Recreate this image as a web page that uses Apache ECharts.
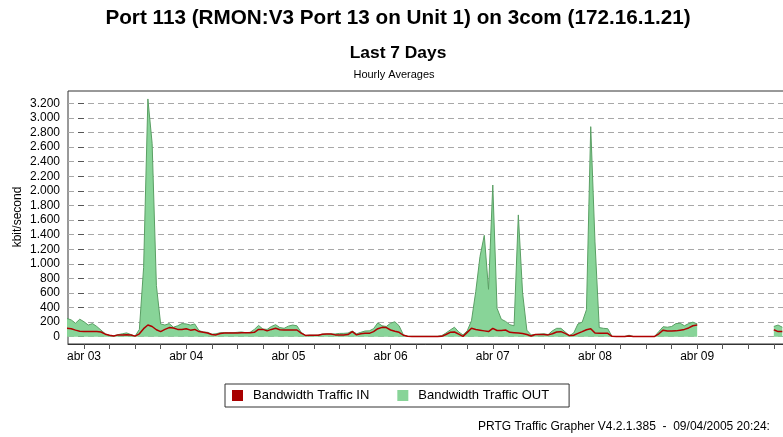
<!DOCTYPE html>
<html>
<head>
<meta charset="utf-8">
<title>Port 113 - Last 7 Days</title>
<script src="https://cdn.jsdelivr.net/npm/echarts@6/dist/echarts.min.js"></script>
<style>
html, body { margin: 0; padding: 0; background: #fff; }
#chart { width: 783px; height: 437px; }
</style>
</head>
<body>
<div id="chart"></div>
<script>
// hours are counted from abr 03 00:00, first sample is abr 02 20:00
var firstHour = -4
var dayLabels = ['abr 03', 'abr 04', 'abr 05', 'abr 06', 'abr 07', 'abr 08', 'abr 09']
var dayHours = [0, 24, 48, 72, 96, 120, 144]
var sixHourTicks = [0, 6, 12, 18, 24, 30, 36, 42, 48, 54, 60, 66, 72, 78, 84, 90, 96, 102, 108, 114, 120, 126, 132, 138, 144, 150, 156, 162]
var yTicks = [0, 200, 400, 600, 800, 1000, 1200, 1400, 1600, 1800, 2000, 2200, 2400, 2600, 2800, 3000, 3200]

// Bandwidth Traffic OUT, kbit/second, hourly
var trafficOut = [
  250, 230, 185, 240, 205, 160, 180, 140, 90, 40,
  15, 12, 28, 40, 52, 30, 8, 100, 950, 3260,
  2650, 700, 175, 160, 180, 130, 150, 180, 175, 160,
  175, 85, 65, 60, 35, 40, 55, 55, 55, 55,
  60, 65, 55, 60, 100, 155, 105, 100, 140, 165,
  125, 115, 145, 160, 150, 60, 18, 20, 20, 22,
  35, 37, 37, 38, 45, 46, 50, 78, 40, 60,
  78, 80, 110, 190, 150, 140, 185, 205, 150, 25,
  5, 5, 5, 5, 5, 5, 5, 5, 15, 50,
  92, 130, 65, 25, 80, 220, 620, 1100, 1390, 650,
  2080, 390, 240, 210, 165, 150, 1670, 600, 90, 25,
  30, 35, 40, 30, 80, 115, 115, 65, 15, 50,
  175, 200, 370, 2880, 1300, 125, 115, 110, 5, 3,
  3, 3, 20, 3, 3, 3, 3, 3, 3, 70,
  137, 130, 140, 180, 185, 150, 180, 200, 175,
  null, null, null, null, null, null, null, null, null, null,
  null, null, null, null, null, null, null,
  140, 160, 130
]

// Bandwidth Traffic IN, kbit/second, hourly
var trafficIn = [
  115, 110, 90, 75, 70, 70, 70, 70, 65, 35,
  20, 10, 25, 25, 28, 22, 8, 40, 110, 160,
  140, 95, 70, 100, 125, 120, 100, 100, 110, 90,
  100, 70, 60, 50, 30, 25, 45, 50, 50, 50,
  50, 55, 55, 55, 60, 100, 100, 80, 100, 115,
  95, 92, 92, 92, 92, 50, 18, 20, 20, 20,
  35, 37, 37, 25, 23, 23, 30, 69, 25, 40,
  46, 46, 70, 110, 128, 125, 92, 75, 60, 20,
  5, 3, 3, 3, 3, 3, 3, 3, 5, 30,
  60, 65, 35, 5, 60, 115, 100, 90, 80, 70,
  115, 85, 85, 92, 60, 55, 50, 45, 30, 10,
  30, 30, 30, 25, 40, 65, 69, 45, 15, 20,
  45, 69, 95, 110, 50, 46, 46, 46, 5, 3,
  3, 3, 10, 3, 3, 3, 3, 3, 3, 40,
  90, 78, 78, 80, 90, 100, 120, 150, 160,
  null, null, null, null, null, null, null, null, null, null,
  null, null, null, null, null, null, null,
  95, 70, 70
]

var FONT = 'Liberation Sans, Arial, sans-serif'

function hourly (values) {
  return values.map(function (v, i) {
    return [firstHour + i, v]
  })
}

function kbit (v) {
  return String(v).replace(/\B(?=(\d{3})+(?!\d))/g, '.')
}

// small ticks between the labels (every 40)
var minorTicks = []
for (var t = 0; t <= 3200; t += 40) {
  minorTicks.push(t)
}

var chart = echarts.init(document.getElementById('chart'))

var option = {
  animation: false,
  backgroundColor: '#fff',
  title: [{
    text: 'Port 113 (RMON:V3 Port 13 on Unit 1) on 3com (172.16.1.21)',
    left: 398,
    top: 8,
    textAlign: 'center',
    padding: 0,
    textStyle: { fontFamily: FONT, fontSize: 20.7, fontWeight: 'bold', color: '#000' }
  }, {
    text: 'Last 7 Days',
    left: 398,
    top: 45,
    textAlign: 'center',
    padding: 0,
    textStyle: { fontFamily: FONT, fontSize: 17.4, fontWeight: 'bold', color: '#000' }
  }, {
    text: 'Hourly Averages',
    left: 394,
    top: 69,
    textAlign: 'center',
    padding: 0,
    textStyle: { fontFamily: FONT, fontSize: 11, fontWeight: 'normal', color: '#000' }
  }],
  legend: {
    left: 225,
    top: 384,
    padding: [5, 20, 5, 7],
    itemWidth: 11,
    itemHeight: 11,
    itemGap: 28,
    icon: 'rect',
    borderColor: '#333',
    borderWidth: 1,
    itemStyle: { borderWidth: 0 },
    textStyle: { fontFamily: FONT, fontSize: 13, color: '#000', padding: [0, 0, 0, 5] },
    data: ['Bandwidth Traffic IN', 'Bandwidth Traffic OUT']
  },
  grid: {
    left: 68,
    top: 91,
    width: 722,
    height: 253,
    outerBoundsMode: 'none',
    show: true,
    borderColor: '#333',
    borderWidth: 1
  },
  xAxis: {
    type: 'value',
    min: -3.76,
    max: 165.8,
    axisLine: { show: true, onZero: false, lineStyle: { color: '#333' } },
    axisTick: { show: true, customValues: sixHourTicks, length: 5, lineStyle: { color: '#555' } },
    axisLabel: {
      customValues: dayHours,
      formatter: function (v) { return dayLabels[Math.round(v / 24)] },
      fontFamily: FONT,
      fontSize: 12,
      color: '#000',
      margin: 7
    },
    splitLine: { show: false }
  },
  yAxis: [{
    type: 'value',
    min: -100,
    max: 3369,
    axisLine: { show: false },
    axisTick: { show: true, customValues: yTicks, length: 6, lineStyle: { color: '#555' } },
    axisLabel: {
      customValues: yTicks,
      formatter: kbit,
      fontFamily: FONT,
      fontSize: 12,
      color: '#000',
      margin: 8
    },
    splitLine: { show: true, lineStyle: { color: '#a8a8a8', type: [6, 4], width: 1 } }
  }, {
    type: 'value',
    min: -100,
    max: 3369,
    axisLine: { show: false },
    axisTick: { show: true, customValues: minorTicks, length: 3, lineStyle: { color: '#777' } },
    axisLabel: { show: false },
    splitLine: { show: false }
  }],
  series: [{
    name: 'Bandwidth Traffic OUT',
    type: 'line',
    data: hourly(trafficOut),
    showSymbol: false,
    symbol: 'none',
    connectNulls: false,
    itemStyle: { color: '#88d498' },
    lineStyle: { color: '#5a9f64', width: 1 },
    areaStyle: { color: '#88d498', opacity: 1 },
    z: 2
  }, {
    name: 'Bandwidth Traffic IN',
    type: 'line',
    data: hourly(trafficIn),
    showSymbol: false,
    symbol: 'none',
    connectNulls: false,
    itemStyle: { color: '#a80000' },
    lineStyle: { color: '#b00000', width: 1.5 },
    z: 3
  }],
  graphic: [{
    // y axis title
    type: 'text',
    x: 18,
    y: 217,
    rotation: Math.PI / 2,
    style: {
      text: 'kbit/second',
      font: '12px Liberation Sans, Arial, sans-serif',
      fill: '#000',
      textAlign: 'center',
      textVerticalAlign: 'middle',
      align: 'center',
      verticalAlign: 'middle'
    }
  }, {
    type: 'text',
    left: 478,
    top: 421,
    style: {
      text: 'PRTG Traffic Grapher V4.2.1.385  -  09/04/2005 20:24:',
      font: '12px Liberation Sans, Arial, sans-serif',
      fill: '#000'
    }
  }]
}

chart.setOption(option)
</script>
</body>
</html>
